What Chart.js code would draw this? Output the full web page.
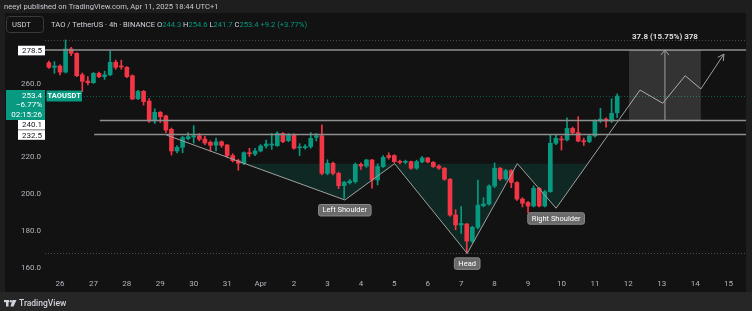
<!DOCTYPE html>
<html>
<head>
<meta charset="utf-8">
<script src="https://cdn.jsdelivr.net/npm/chart.js@4.4.1/dist/chart.umd.min.js"></script>
<style>
  html, body { margin: 0; padding: 0; background: #1e1e1e; }
  #wrap { width: 752px; height: 311px; }
</style>
</head>
<body>
<div id="wrap"><canvas id="c" width="752" height="311"></canvas></div>
<script>
// 4h candles, TAO/USDT, from Mar 25 16:00 to Apr 11 16:00
const opens = [271.6, 269.1, 269.8, 266.5, 279.1, 276.7, 265.0, 261.6, 260.7, 265.8,
  264.0, 265.0, 271.8, 269.8, 269.1, 264.5, 252.0, 256.0, 250.7, 239.8,
  244.6, 242.6, 235.3, 223.5, 225.5, 230.2, 231.1, 231.8, 230.0, 228.2,
  226.6, 228.5, 226.8, 221.0, 218.2, 216.8, 222.4, 221.8, 223.5, 226.2,
  226.7, 226.4, 233.1, 229.1, 232.2, 225.2, 225.3, 225.9, 231.0, 231.8,
  211.3, 216.8, 211.3, 204.6, 206.2, 206.8, 216.2, 215.3, 218.6, 207.7,
  215.0, 221.0, 221.0, 217.7, 217.3, 217.7, 214.1, 217.5, 219.7, 217.3,
  215.3, 214.1, 208.1, 188.6, 183.2, 183.7, 174.4, 181.9, 193.7, 194.6,
  204.4, 214.1, 208.3, 212.8, 206.3, 197.3, 195.4, 193.5, 203.2, 193.5,
  201.3, 227.7, 230.0, 229.5, 235.8, 233.5, 229.0, 228.6, 231.7, 239.8,
  240.9, 239.8, 244.3];
const highs = [272.5, 272.2, 270.5, 284.0, 280.0, 277.0, 266.0, 264.0, 266.3, 266.5,
  267.0, 278.0, 273.0, 273.0, 269.5, 265.0, 256.5, 256.5, 252.0, 246.5,
  245.0, 243.0, 236.0, 226.5, 231.5, 233.5, 237.3, 233.0, 231.5, 229.0,
  230.5, 229.0, 227.0, 222.0, 219.0, 223.0, 225.0, 225.0, 227.0, 229.5,
  233.1, 234.0, 233.5, 233.0, 232.8, 227.5, 227.0, 233.5, 233.0, 237.7,
  218.7, 217.5, 212.0, 207.0, 208.0, 217.0, 217.0, 219.0, 219.0, 216.5,
  221.0, 222.5, 221.5, 218.5, 218.5, 218.0, 218.5, 220.5, 220.0, 217.8,
  216.0, 214.5, 208.5, 191.5, 193.2, 184.0, 182.5, 207.7, 198.0, 205.0,
  217.0, 214.5, 213.5, 213.3, 206.8, 198.0, 196.0, 204.5, 203.5, 202.0,
  232.3, 232.5, 231.5, 241.5, 236.5, 242.2, 230.5, 232.3, 240.5, 246.8,
  241.5, 252.0, 254.6];
const lows = [268.5, 265.8, 264.9, 266.0, 275.5, 264.0, 255.8, 259.5, 260.3, 263.5,
  262.5, 264.5, 268.0, 268.0, 263.5, 251.5, 251.5, 248.5, 239.0, 238.5,
  239.0, 233.5, 221.3, 222.5, 222.5, 229.5, 227.7, 229.0, 227.0, 223.5,
  223.5, 225.5, 220.0, 217.5, 213.0, 216.0, 220.5, 221.0, 223.0, 225.0,
  224.4, 226.0, 228.0, 228.5, 224.5, 221.0, 224.5, 225.0, 229.0, 210.5,
  210.5, 210.5, 203.0, 197.7, 205.5, 206.0, 213.5, 214.5, 203.2, 205.0,
  214.5, 219.0, 217.0, 216.5, 216.5, 213.5, 213.5, 217.0, 217.0, 214.5,
  213.5, 207.5, 188.0, 180.5, 178.6, 167.7, 173.5, 181.0, 193.0, 194.0,
  203.5, 207.5, 207.5, 203.5, 196.5, 193.0, 189.9, 193.0, 193.0, 193.0,
  201.0, 227.0, 224.0, 229.0, 232.5, 228.5, 226.5, 228.0, 231.0, 239.0,
  236.5, 239.0, 241.7];
const closes = [269.1, 269.8, 266.5, 279.1, 276.7, 264.5, 261.5, 260.7, 265.8, 264.0,
  265.0, 271.8, 269.1, 269.3, 264.0, 251.8, 256.0, 250.4, 239.8, 244.6,
  242.2, 234.9, 223.5, 225.5, 230.8, 231.3, 231.8, 229.9, 227.8, 226.6,
  228.5, 226.6, 221.0, 218.2, 216.8, 222.6, 222.0, 223.5, 226.2, 227.3,
  227.3, 233.1, 228.6, 232.2, 225.0, 225.4, 225.9, 230.4, 231.8, 211.3,
  216.8, 211.3, 204.6, 206.4, 207.1, 216.2, 215.3, 218.6, 207.7, 215.0,
  220.0, 220.0, 217.7, 217.3, 217.6, 214.1, 217.7, 219.7, 217.5, 215.0,
  214.1, 208.1, 188.6, 183.2, 184.0, 174.4, 181.9, 194.0, 194.6, 204.4,
  214.1, 208.3, 212.8, 206.3, 197.3, 195.0, 193.5, 203.2, 193.5, 201.3,
  227.7, 230.4, 229.5, 235.8, 233.5, 228.9, 228.5, 231.7, 239.8, 240.9,
  239.8, 244.0, 253.4];

// x axis in days from Mar 26 00:00
const firstCandleDay = -2 / 6;
const candleStep = 1 / 6;
const dayLabels = ['26', '27', '28', '29', '30', '31', 'Apr', '2', '3', '4', '5', '6', '7',
  '8', '9', '10', '11', '12', '13', '14', '15'];
const yTickValues = [160, 180, 200, 220, 260];

// head & shoulders drawing (day, price)
const patternDays = [3.18, 8.52, 10.01, 12.18, 13.68, 14.84, 17.35, 18.03, 18.70, 19.17, 19.86];
const patternPrices = [232.2, 196.8, 216.6, 167.7, 216.6, 192.3, 256.7, 249.5, 264.5, 257.3, 276.3];
const neckline = 216.6;
const patternLabels = [[1, 'Left Shoulder'], [3, 'Head'], [5, 'Right Shoulder']];

// horizontal levels and their start day
const levelPrices = [278.5, 240.1, 232.5];
const levelStartDays = [-0.45, 1.19, 1.02];

// projection box
const projDays = [17.02, 19.17];
const projPrices = [240.1, 278.5];
const projText = '37.8 (15.75%) 378';

const lastPrice = 253.4;
const highLine = 284.0;
const lowLine = 167.7;

const GREEN = '#089981';
const RED = '#f23645';
const FONT = 'Roboto, "Liberation Sans", sans-serif';

const candleDays = closes.map((_, i) => firstCandleDay + i * candleStep);
const candleColors = closes.map((c, i) => c >= opens[i] ? GREEN : RED);

// fill polygon under the neckline
function crossAt(a, b) {
  const f = (neckline - patternPrices[a]) / (patternPrices[b] - patternPrices[a]);
  return patternDays[a] + f * (patternDays[b] - patternDays[a]);
}
const fillPts = [{ x: crossAt(0, 1), y: neckline }];
for (let k = 1; k <= 5; k++) fillPts.push({ x: patternDays[k], y: patternPrices[k] });
fillPts.push({ x: crossAt(5, 6), y: neckline });

const overlay = {
  id: 'overlay',
  beforeDraw(chart) {
    const ctx = chart.ctx;
    ctx.save();
    ctx.fillStyle = '#1e1e1e';
    ctx.fillRect(0, 0, 752, 311);
    ctx.fillStyle = '#121212';
    ctx.fillRect(5, 13, 741, 279);
    ctx.fillStyle = '#262626';
    ctx.fillRect(0, 292, 752, 19);

    // header
    ctx.textBaseline = 'middle';
    ctx.font = '7.6px ' + FONT;
    ctx.fillStyle = '#c8cad0';
    ctx.fillText('neeyi published on TradingView.com, Apr 11, 2025 18:44 UTC+1', 4, 7);

    ctx.strokeStyle = '#3a3a3a';
    ctx.lineWidth = 1;
    ctx.beginPath();
    ctx.roundRect(6.5, 16.5, 37, 16, 3);
    ctx.stroke();
    ctx.fillStyle = '#d1d4dc';
    ctx.fillText('USDT', 12, 25);

    let x = 51;
    const parts = [['TAO / TetherUS · 4h · BINANCE ', '#d1d4dc'], ['O', '#d1d4dc'], ['244.3', GREEN],
      [' H', '#d1d4dc'], ['254.6', GREEN], [' L', '#d1d4dc'], ['241.7', GREEN],
      [' C', '#d1d4dc'], ['253.4', GREEN], [' +9.2 (+3.77%)', GREEN]];
    parts.forEach(([t, col]) => {
      ctx.fillStyle = col;
      ctx.fillText(t, x, 25);
      x += ctx.measureText(t).width;
    });
    ctx.restore();
  },
  beforeDatasetsDraw(chart) {
    const ctx = chart.ctx, ys = chart.scales.y, a = chart.chartArea;
    ctx.save();
    ctx.lineWidth = 1;
    ctx.setLineDash([1, 2]);
    [[highLine, '#4a4a4a'], [lowLine, '#4a4a4a'], [lastPrice, 'rgba(8,153,129,0.55)']].forEach(([p, col]) => {
      const y = Math.round(ys.getPixelForValue(p)) + 0.5;
      ctx.strokeStyle = col;
      ctx.beginPath();
      ctx.moveTo(a.left, y);
      ctx.lineTo(a.right, y);
      ctx.stroke();
    });
    ctx.restore();
  },
  afterDatasetsDraw(chart) {
    const ctx = chart.ctx, xs = chart.scales.x, ys = chart.scales.y, a = chart.chartArea;
    ctx.save();
    // levels
    ctx.strokeStyle = '#8f8f8f';
    ctx.lineWidth = 1.5;
    levelPrices.forEach((p, k) => {
      const y = ys.getPixelForValue(p);
      ctx.beginPath();
      ctx.moveTo(Math.max(a.left, xs.getPixelForValue(levelStartDays[k])), y);
      ctx.lineTo(a.right, y);
      ctx.stroke();
    });

    // projection box
    const bx0 = xs.getPixelForValue(projDays[0]), bx1 = xs.getPixelForValue(projDays[1]);
    const by0 = ys.getPixelForValue(projPrices[1]), by1 = ys.getPixelForValue(projPrices[0]);
    ctx.fillStyle = 'rgba(255,255,255,0.14)';
    ctx.fillRect(bx0, by0, bx1 - bx0, by1 - by0);
    const mx = (bx0 + bx1) / 2;
    ctx.strokeStyle = '#a0a0a0';
    ctx.lineWidth = 1;
    ctx.beginPath();
    ctx.moveTo(mx, by1);
    ctx.lineTo(mx, by0);
    ctx.moveTo(mx - 4, by0 + 5);
    ctx.lineTo(mx, by0);
    ctx.lineTo(mx + 4, by0 + 5);
    ctx.stroke();
    ctx.fillStyle = '#e0e0e0';
    ctx.font = 'bold 8px ' + FONT;
    ctx.textAlign = 'center';
    ctx.textBaseline = 'middle';
    ctx.fillText(projText, mx, 37);

    // arrow head at end of zigzag
    const n = patternDays.length;
    const ex = xs.getPixelForValue(patternDays[n - 1]), ey = ys.getPixelForValue(patternPrices[n - 1]);
    const px = xs.getPixelForValue(patternDays[n - 2]), py = ys.getPixelForValue(patternPrices[n - 2]);
    const ang = Math.atan2(ey - py, ex - px);
    ctx.strokeStyle = '#a0a0a0';
    ctx.beginPath();
    ctx.moveTo(ex - 7 * Math.cos(ang - 0.5), ey - 7 * Math.sin(ang - 0.5));
    ctx.lineTo(ex, ey);
    ctx.lineTo(ex - 7 * Math.cos(ang + 0.5), ey - 7 * Math.sin(ang + 0.5));
    ctx.stroke();

    // pattern labels
    ctx.font = '7.5px ' + FONT;
    patternLabels.forEach(([k, t]) => {
      const cx = xs.getPixelForValue(patternDays[k]);
      const top = ys.getPixelForValue(patternPrices[k]) + 4.5;
      const w = ctx.measureText(t).width + 8;
      ctx.fillStyle = '#6a6a6a';
      ctx.strokeStyle = '#8a8a8a';
      ctx.beginPath();
      ctx.roundRect(cx - w / 2, top, w, 11.5, 2);
      ctx.fill();
      ctx.stroke();
      ctx.fillStyle = '#ffffff';
      ctx.fillText(t, cx, top + 6);
    });
    ctx.restore();
  },
  afterDraw(chart) {
    const ctx = chart.ctx, ys = chart.scales.y;
    ctx.save();
    ctx.textBaseline = 'middle';
    ctx.textAlign = 'right';
    ctx.font = '8px ' + FONT;
    // level price boxes
    const boxes = [[levelPrices[0], ys.getPixelForValue(levelPrices[0]) + 0.5],
      [levelPrices[1], 124.8], [levelPrices[2], 135]];
    boxes.forEach(([p, cy]) => {
      ctx.fillStyle = '#ffffff';
      ctx.fillRect(18, cy - 4.8, 27, 9.6);
      ctx.fillStyle = '#131722';
      ctx.fillText(p.toFixed(1), 42, cy + 0.5);
    });
    // last price box
    ctx.fillStyle = GREEN;
    ctx.fillRect(6, 90, 39, 30);
    ctx.fillStyle = '#ffffff';
    ctx.fillText(lastPrice.toFixed(1), 42, 95.5);
    ctx.fillText('\u22126.77%', 42, 105);
    ctx.fillText('02:15:26', 42, 114.5);
    ctx.fillStyle = GREEN;
    ctx.fillRect(46.5, 90.5, 35.5, 11);
    ctx.fillStyle = '#ffffff';
    ctx.textAlign = 'center';
    ctx.font = 'bold 7.5px ' + FONT;
    ctx.fillText('TAOUSDT', 64.2, 96.5);

    // footer logo
    ctx.fillStyle = '#d1d4dc';
    ctx.fillRect(4, 300, 5, 2.2);
    ctx.fillRect(6, 300, 2.5, 6.5);
    ctx.beginPath();
    ctx.arc(10.8, 301.2, 1.2, 0, Math.PI * 2);
    ctx.fill();
    ctx.beginPath();
    ctx.moveTo(12.5, 300);
    ctx.lineTo(16.5, 300);
    ctx.lineTo(13.5, 306.5);
    ctx.lineTo(10.5, 306.5);
    ctx.closePath();
    ctx.fill();
    ctx.textAlign = 'left';
    ctx.font = '500 8.5px ' + FONT;
    ctx.fillText('TradingView', 19, 303.5);
    ctx.restore();
  }
};

new Chart(document.getElementById('c'), {
  data: {
    datasets: [
      {
        type: 'line',
        data: fillPts,
        borderWidth: 0,
        pointRadius: 0,
        fill: { value: neckline },
        backgroundColor: 'rgba(8,153,129,0.16)',
        order: 5
      },
      {
        type: 'bar',
        data: candleDays.map((d, i) => ({ x: d, y: [lows[i], highs[i]] })),
        backgroundColor: candleColors,
        barThickness: 1,
        grouped: false,
        order: 3
      },
      {
        type: 'bar',
        data: candleDays.map((d, i) => ({ x: d, y: [opens[i], closes[i]] })),
        backgroundColor: candleColors,
        barThickness: 4,
        minBarLength: 1,
        grouped: false,
        order: 2
      },
      {
        type: 'line',
        data: patternDays.map((d, k) => ({ x: d, y: patternPrices[k] })),
        borderColor: '#a0a0a0',
        borderWidth: 1,
        pointRadius: 0,
        fill: false,
        order: 0
      }
    ]
  },
  options: {
    responsive: false,
    animation: false,
    layout: { padding: { left: 0, right: 6, top: 37, bottom: 19 } },
    plugins: { legend: { display: false }, tooltip: { enabled: false } },
    scales: {
      x: {
        type: 'linear',
        offset: false,
        min: -0.449,
        max: 20.52,
        grid: { display: false, drawTicks: false, offset: false },
        border: { display: false },
        afterBuildTicks: s => { s.ticks = dayLabels.map((_, k) => ({ value: k })); },
        afterFit: s => { s.height = 18; },
        ticks: {
          autoSkip: false,
          maxRotation: 0,
          padding: 5,
          color: '#b2b5be',
          font: { size: 8, family: FONT },
          callback: v => dayLabels[Math.round(v)] ?? ''
        }
      },
      y: {
        type: 'linear',
        position: 'left',
        min: 156.46,
        max: 285.61,
        grid: { display: false, drawTicks: false },
        border: { display: false },
        afterBuildTicks: s => { s.ticks = yTickValues.map(v => ({ value: v })); },
        afterFit: s => { s.width = 45; },
        ticks: {
          padding: 4,
          color: '#b2b5be',
          font: { size: 8, family: FONT },
          callback: v => v.toFixed(1)
        }
      }
    }
  },
  plugins: [overlay]
});
</script>
</body>
</html>
